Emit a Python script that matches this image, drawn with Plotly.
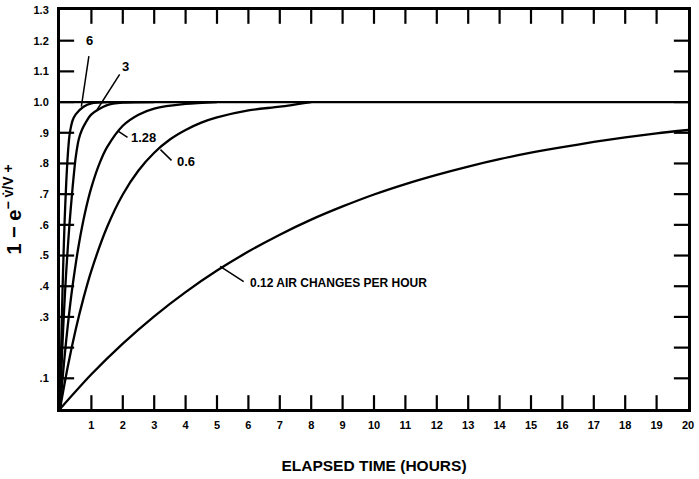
import plotly.graph_objects as go

# Values
t_012 = [0, 1, 2, 3, 4, 5, 6, 7, 8, 9, 10, 11, 12, 13, 14, 15, 16, 17, 18, 19, 20]
y_012 = [0, .113, .213, .302, .381, .451, .513, .568, .617, .660, .699, .733, .763, .790, .814, .835, .853, .870, .885, .898, .909]

t_06 = [0, .25, .5, .75, 1, 1.5, 2, 2.5, 3, 3.5, 4, 4.5, 5, 6, 7, 8]
y_06 = [0, .139, .259, .362, .451, .593, .699, .777, .835, .878, .909, .933, .950, .973, .985, 1.0]

t_128 = [0, .1, .2, .3, .4, .6, .8, 1, 1.25, 1.5, 2, 2.5, 3, 4, 5]
y_128 = [0, .12, .226, .319, .401, .536, .641, .722, .798, .853, .923, .959, .979, .994, 1.0]

t_3 = [0, .05, .1, .15, .2, .3, .4, .5, .6, .7, .8, 1, 1.5, 2, 3]
y_3 = [0, .14, .26, .36, .45, .60, .72, .82, .88, .91, .93, .96, .99, .998, 1.0]

t_6 = [0, .03, .06, .1, .15, .2, .25, .3, .35, .4, .5, .75, 1, 1.5]
y_6 = [0, .16, .30, .46, .62, .74, .83, .89, .92, .94, .96, .985, .996, 1.0]

t_ref = [0, 20]
y_ref = [1.0, 1.0]

series = [(t_012, y_012), (t_06, y_06), (t_128, y_128), (t_3, y_3), (t_6, y_6), (t_ref, y_ref)]

x_ticks = list(range(1, 21))
x_labels = [str(v) for v in x_ticks]
y_ticks = [.1, .2, .3, .4, .5, .6, .7, .8, .9, 1.0, 1.1, 1.2, 1.3]
y_labels = [".1", " ", ".3", ".4", ".5", ".6", ".7", ".8", ".9", "1.0", "1.1", "1.2", "1.3"]

# label text, label position, curve point, leader start
labels = [
    ("6", 0.95, 1.20, 0.68, 0.985, 0.92, 1.15),
    ("3", 2.07, 1.115, 1.18, 0.975, 1.90, 1.09),
    ("1.28", 2.2, 0.885, 1.85, 0.905, 2.15, 0.885),
    ("0.6", 3.65, 0.805, 3.2, 0.845, 3.55, 0.81),
    ("0.12 AIR CHANGES PER HOUR", 6.0, 0.41, 5.1, 0.465, 5.85, 0.415),
]

fig = go.Figure()
for tx, ty in series:
    fig.add_trace(go.Scatter(x=tx, y=ty, mode="lines", line=dict(color="black", width=2.3, shape="spline", smoothing=0.8),
                             showlegend=False, hoverinfo="skip"))

for txt, lx, ly, cx, cy, sx, sy in labels:
    fig.add_annotation(x=lx, y=ly, text="<b>%s</b>" % txt, showarrow=False,
                       xanchor="left" if len(txt) > 1 else "center", yanchor="middle",
                       font=dict(family="Liberation Sans", size=12 if len(txt) > 5 else 13, color="black"))
    fig.add_shape(type="line", x0=sx, y0=sy, x1=cx, y1=cy, line=dict(color="black", width=1.5))

# inward tick marks on all four sides, drawn as short line traces at the tick values
tick_x, tick_y = [], []
for xv in x_ticks[:-1]:
    tick_x += [xv, xv, None, xv, xv, None]
    tick_y += [0, 0.045, None, 1.3, 1.255, None]
fig.add_trace(go.Scatter(x=tick_x, y=tick_y, mode="lines", line=dict(color="black", width=2.2),
                         showlegend=False, hoverinfo="skip", cliponaxis=False))
tick_x, tick_y = [], []
for yv in y_ticks[:-1]:
    tick_x += [0, 0.45, None, 20, 19.55, None]
    tick_y += [yv, yv, None, yv, yv, None]
fig.add_trace(go.Scatter(x=tick_x, y=tick_y, mode="lines", line=dict(color="black", width=2.2),
                         showlegend=False, hoverinfo="skip", cliponaxis=False))

axis_common = dict(ticks="", showline=True, linecolor="black", linewidth=3, mirror=True, showgrid=False,
                   zeroline=False, tickfont=dict(family="Liberation Sans", size=11, color="black"))

fig.update_layout(
    template="none",
    xaxis=dict(range=[0, 20], tickmode="array", tickvals=x_ticks, ticktext=["<b>%s</b>" % s for s in x_labels],
               ticklabelstandoff=4,
               title=dict(text="<b>ELAPSED TIME (HOURS)</b>", font=dict(family="Liberation Sans", size=15.5, color="black"),
                          standoff=30), **axis_common),
    yaxis=dict(range=[0, 1.3], tickmode="array", tickvals=y_ticks, ticktext=["<b>%s</b>" % s for s in y_labels],
               ticklabelstandoff=6,
               title=dict(text="<b>1 − e<sup>− v̇/V +</sup></b>", font=dict(family="Liberation Sans", size=20, color="black"),
                          standoff=8), **axis_common),
    width=699, height=479, margin=dict(l=60, r=11, t=10, b=70), plot_bgcolor="white", paper_bgcolor="white",
)
fig.write_html("out.html")
